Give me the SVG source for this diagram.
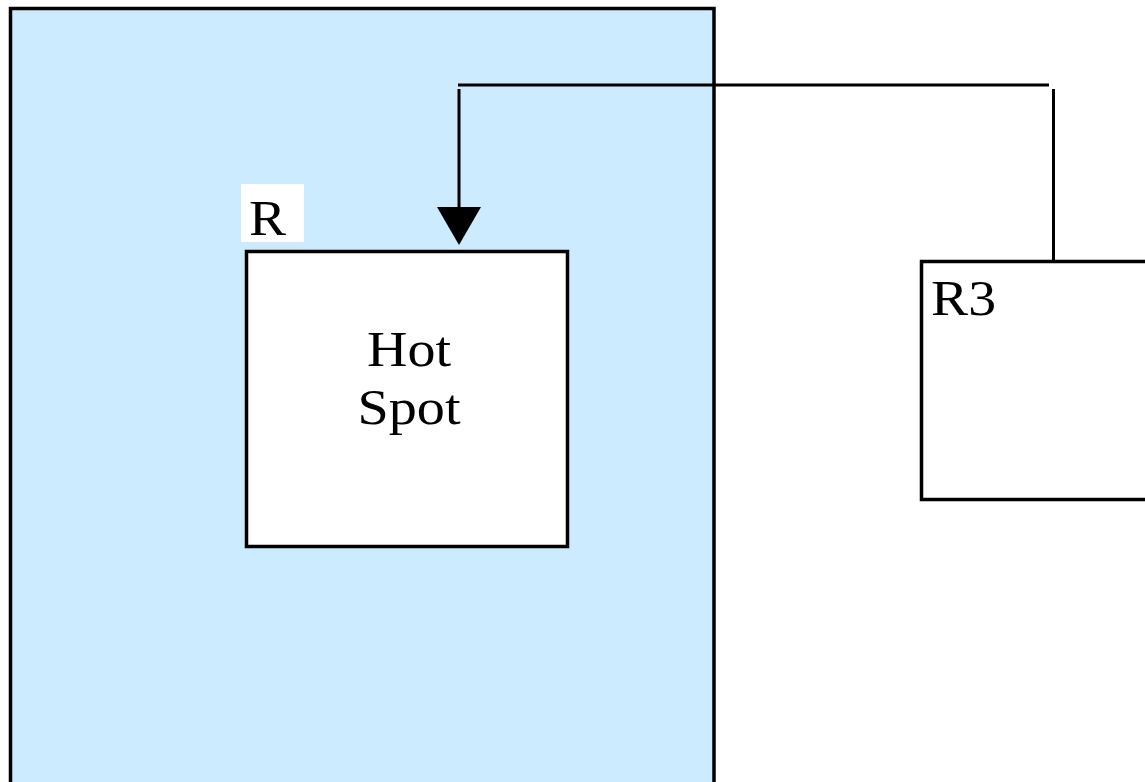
<svg xmlns="http://www.w3.org/2000/svg" width="1145" height="782" viewBox="0 0 1145 782">
<defs>
<style>
.box{fill:#ffffff;stroke:#000;stroke-width:3.5}
.lbl{font-family:"Liberation Serif","Times New Roman",serif;font-size:50px;fill:#000}
.conn{fill:none;stroke:#000;stroke-width:3}
</style>
<marker id="arr" markerUnits="userSpaceOnUse" markerWidth="40" markerHeight="46" refX="34" refY="22" orient="auto" viewBox="0 0 40 46">
<path d="M0,0 L38,22 L0,44 Z" fill="#000"/>
</marker>
</defs>
<rect width="1145" height="782" fill="#fff"/>
<g id="region">
<rect x="10.5" y="8.5" width="703.5" height="800" fill="#CCEBFE" stroke="#000" stroke-width="3.5"/>
</g>
<g id="hotspot">
<rect class="box" x="246.5" y="251.5" width="321" height="295"/>
<text class="lbl" x="409" y="366" text-anchor="middle" textLength="84" lengthAdjust="spacingAndGlyphs">Hot</text>
<text class="lbl" x="409" y="424" text-anchor="middle" textLength="103" lengthAdjust="spacingAndGlyphs">Spot</text>
</g>
<g id="r-label">
<rect x="241" y="184" width="63" height="58" fill="#fff"/>
<text class="lbl" x="249" y="235" textLength="37" lengthAdjust="spacingAndGlyphs">R</text>
</g>
<g id="r3">
<rect class="box" x="921.5" y="261.5" width="240" height="238"/>
<text class="lbl" x="931" y="315" textLength="65" lengthAdjust="spacingAndGlyphs">R3</text>
</g>
<g id="connectors">
<line class="conn" x1="458" y1="85" x2="1049" y2="85"/>
<line class="conn" x1="1053.5" y1="89" x2="1053.5" y2="260"/>
<line class="conn" x1="459" y1="89" x2="459" y2="241" marker-end="url(#arr)"/>
</g>
</svg>
